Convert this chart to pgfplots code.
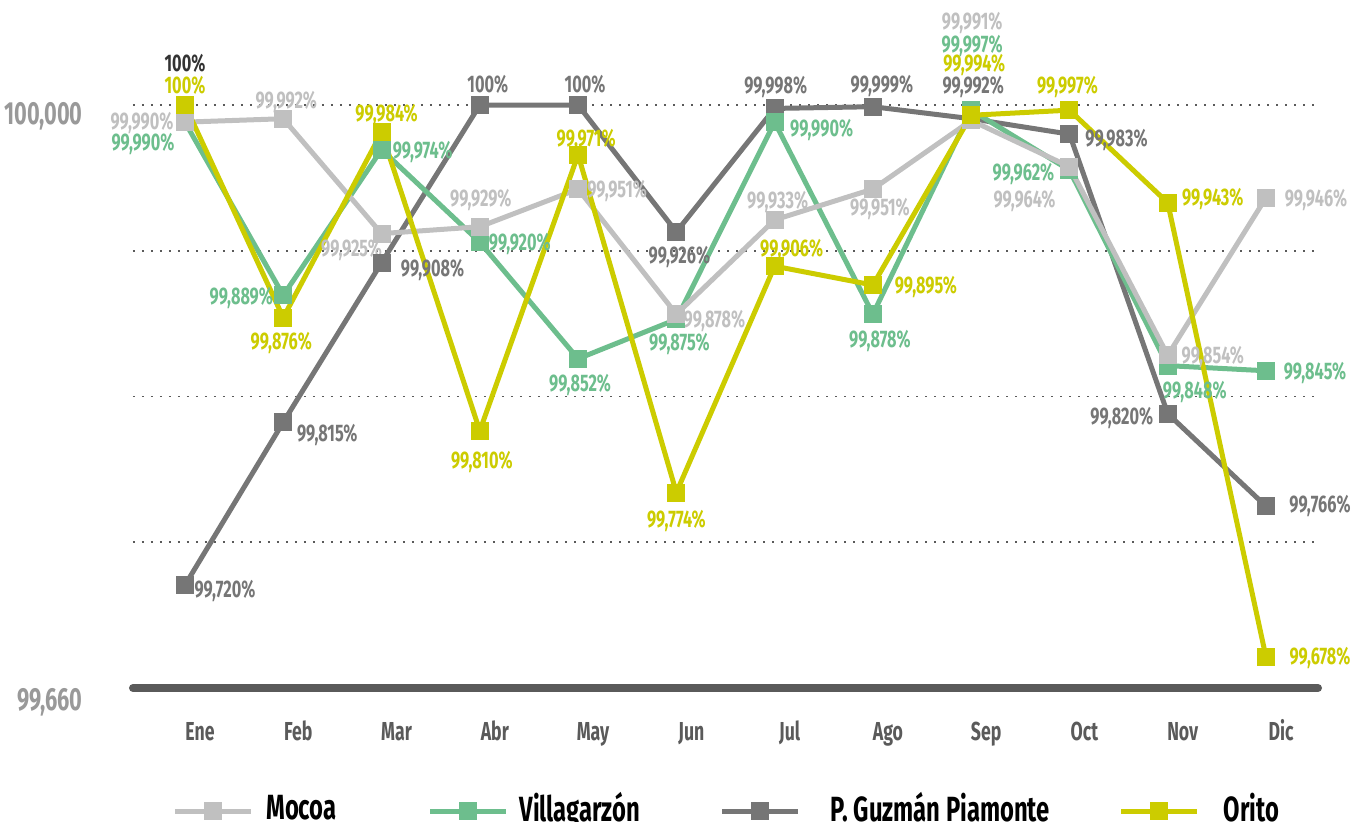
\documentclass[border=0pt]{standalone}
\usepackage{pgfplots}
\pgfplotsset{compat=1.18}
\usepackage{fontspec}
\setmainfont{Fira Sans}[FakeStretch=0.68]
\definecolor{cMoc}{HTML}{C0C0C0}
\definecolor{cVil}{HTML}{6DBE8D}
\definecolor{cPia}{HTML}{767676}
\definecolor{cOri}{HTML}{CCCC00}
\definecolor{cAx}{HTML}{5A5A5A}
\definecolor{cYl}{HTML}{999999}
\newcommand{\lab}[6]{\node[anchor=base, text=#1, inner sep=0pt, font=\fontsize{12}{12}\selectfont\bfseries, xshift=#4pt, yshift=#5pt] at (axis cs:#2,#3) {#6};}
\newcommand{\lent}[3]{\makebox[#1]{}\raisebox{2.5pt}{#2}\makebox[#3]{}}
\begin{document}
\begin{tikzpicture}
\path[use as bounding box] (-66.5pt,-66.5pt) rectangle (617pt,344pt);
\begin{axis}[
  at={(0pt,0pt)}, anchor=south west,
  scale only axis, width=592.5pt, height=291.5pt,
  xmin=-0.529, xmax=11.529, ymin=99.66, ymax=100,
  clip=false,
  axis line style={draw=none},
  tick style={draw=none},
  xtick={0,...,11},
  xticklabels={Ene,Feb,Mar,Abr,May,Jun,Jul,Ago,Sep,Oct,Nov,Dic},
  xticklabel style={anchor=base, yshift=-26pt, xshift=7.5pt, text=cAx, font=\fontsize{13}{13}\selectfont\bfseries},
  ytick={99.745,99.83,99.915,100},
  yticklabels={},
  ymajorgrids,
  major grid style={draw=cAx, line width=0.8pt, dash pattern=on 0.8pt off 3.7pt},
  legend style={at={(rel axis cs:0.0329,-0.211)}, anchor=west, draw=none, fill=none, inner sep=0pt,
    font=\fontsize{17.5}{17.5}\selectfont\bfseries, nodes={inner sep=0pt},
    /tikz/every odd column/.style={column sep=0pt}},
  legend columns=4,
  legend image code/.code={\draw[mark repeat=2, mark phase=2, #1] plot coordinates {(0pt,0pt) (19pt,0pt) (38pt,0pt)};},
  every axis plot/.append style={line width=2.5pt, mark=square*, mark size=3.25pt, mark options={solid}},
]
\draw[line width=4pt, line cap=round, cAx] (rel axis cs:0,0) -- (rel axis cs:1,0);
\node[anchor=base east, text=cYl, inner sep=0pt, font=\fontsize{16}{16}\selectfont\bfseries, xshift=-25pt, yshift=-9.5pt] at (rel axis cs:0,1) {100,000};
\node[anchor=base east, text=cYl, inner sep=0pt, font=\fontsize{16}{16}\selectfont\bfseries, xshift=-25pt, yshift=-11pt] at (rel axis cs:0,0) {99,660};

\addlegendimage{cMoc, line width=2.5pt, mark=square*, mark size=3.25pt}
\addlegendentry{\lent{6.5pt}{Mocoa}{45.5pt}}
\addlegendimage{cVil, line width=2.5pt, mark=square*, mark size=3.25pt}
\addlegendentry{\lent{5.5pt}{Villagarzón}{40pt}}
\addlegendimage{cPia, line width=2.5pt, mark=square*, mark size=3.25pt}
\addlegendentry{\lent{15pt}{P. Guzmán Piamonte}{34.5pt}}
\addlegendimage{cOri, line width=2.5pt, mark=square*, mark size=3.25pt}
\addlegendentry{\lent{12pt}{Orito}{0pt}}

% P. Guzman Piamonte
\addplot[cPia, forget plot] coordinates {(0,99.720) (1,99.815) (2,99.908) (3,100) (4,100) (5,99.926) (6,99.998) (7,99.999) (8,99.992) (9,99.983) (10,99.820) (11,99.766)};
% Villagarzon
\addplot[cVil, forget plot] coordinates {(0,99.990) (1,99.889) (2,99.974) (3,99.920) (4,99.852) (5,99.875) (6,99.990) (7,99.878) (8,99.997) (9,99.962) (10,99.848) (11,99.845)};
% Mocoa
\addplot[cMoc, forget plot] coordinates {(0,99.990) (1,99.992) (2,99.925) (3,99.929) (4,99.951) (5,99.878) (6,99.933) (7,99.951) (8,99.991) (9,99.964) (10,99.854) (11,99.946)};
% Orito
\addplot[cOri, forget plot] coordinates {(0,100) (1,99.876) (2,99.984) (3,99.810) (4,99.971) (5,99.774) (6,99.906) (7,99.895) (8,99.994) (9,99.997) (10,99.943) (11,99.678)};

% Mocoa labels
\lab{cMoc}{0}{99.990}{-21.5}{-3.75}{99,990\%}
\lab{cMoc}{1}{99.992}{1.5}{5.25}{99,992\%}
\lab{cMoc}{2}{99.925}{-15}{-11.25}{99,925\%}
\lab{cMoc}{3}{99.929}{0.5}{10.25}{99,929\%}
\lab{cMoc}{4}{99.951}{19.5}{-4.25}{99,951\%}
\lab{cMoc}{5}{99.878}{19}{-6.75}{99,878\%}
\lab{cMoc}{6}{99.933}{1.5}{5.75}{99,933\%}
\lab{cMoc}{7}{99.951}{3.5}{-13.25}{99,951\%}
\lab{cMoc}{8}{99.991}{0.5}{45.25}{99,991\%}
\lab{cMoc}{9}{99.964}{-22.5}{-20.25}{99,964\%}
\lab{cMoc}{10}{99.854}{22.5}{-4.25}{99,854\%}
\lab{cMoc}{11}{99.946}{25}{-4.25}{99,946\%}
% Villagarzon labels
\lab{cVil}{0}{99.990}{-21}{-14.25}{99,990\%}
\lab{cVil}{1}{99.889}{-21}{-4.75}{99,889\%}
\lab{cVil}{2}{99.974}{20.5}{-4.25}{99,974\%}
\lab{cVil}{3}{99.920}{20}{-4.25}{99,920\%}
\lab{cVil}{4}{99.852}{1}{-16.25}{99,852\%}
\lab{cVil}{5}{99.875}{1.5}{-15.75}{99,875\%}
\lab{cVil}{6}{99.990}{23.5}{-7.25}{99,990\%}
\lab{cVil}{7}{99.878}{3.5}{-16.75}{99,878\%}
\lab{cVil}{8}{99.997}{0.5}{28.75}{99,997\%}
\lab{cVil}{9}{99.962}{-23}{-5.25}{99,962\%}
\lab{cVil}{10}{99.848}{13.5}{-16.25}{99,848\%}
\lab{cVil}{11}{99.845}{24.5}{-4.25}{99,845\%}
% Piamonte labels
\lab{cPia}{0}{99.720}{20}{-6.25}{99,720\%}
\lab{cPia}{1}{99.815}{22}{-9.75}{99,815\%}
\lab{cPia}{2}{99.908}{25.5}{-6.75}{99,908\%}
\lab{cPia}{3}{100}{4}{6.25}{100\%}
\lab{cPia}{4}{100}{3.5}{6.25}{100\%}
\lab{cPia}{5}{99.926}{1.5}{-15.75}{99,926\%}
\lab{cPia}{6}{99.998}{0.5}{7.25}{99,998\%}
\lab{cPia}{7}{99.999}{4.5}{7.25}{99,999\%}
\lab{cPia}{8}{99.992}{1}{12.75}{99,992\%}
\lab{cPia}{9}{99.983}{23.5}{-6.25}{99,983\%}
\lab{cPia}{10}{99.820}{-23}{-5.25}{99,820\%}
\lab{cPia}{11}{99.766}{27}{-3.25}{99,766\%}
% Orito labels
\lab{cOri}{0}{100}{0}{5.75}{100\%}
\lab{black!80}{0}{100}{0}{16.75}{100\%}
\lab{cOri}{1}{99.876}{-1}{-15.75}{99,876\%}
\lab{cOri}{2}{99.984}{2.5}{5.25}{99,984\%}
\lab{cOri}{3}{99.810}{1}{-18.75}{99,810\%}
\lab{cOri}{4}{99.971}{4}{4.25}{99,971\%}
\lab{cOri}{5}{99.774}{0}{-17.25}{99,774\%}
\lab{cOri}{6}{99.906}{8.5}{4.75}{99,906\%}
\lab{cOri}{7}{99.895}{26.5}{-4.25}{99,895\%}
\lab{cOri}{8}{99.994}{1.5}{21.75}{99,994\%}
\lab{cOri}{9}{99.997}{-1}{8.25}{99,997\%}
\lab{cOri}{10}{99.943}{22.5}{-1.25}{99,943\%}
\lab{cOri}{11}{99.678}{27}{-3.75}{99,678\%}
\end{axis}
\end{tikzpicture}
\end{document}
